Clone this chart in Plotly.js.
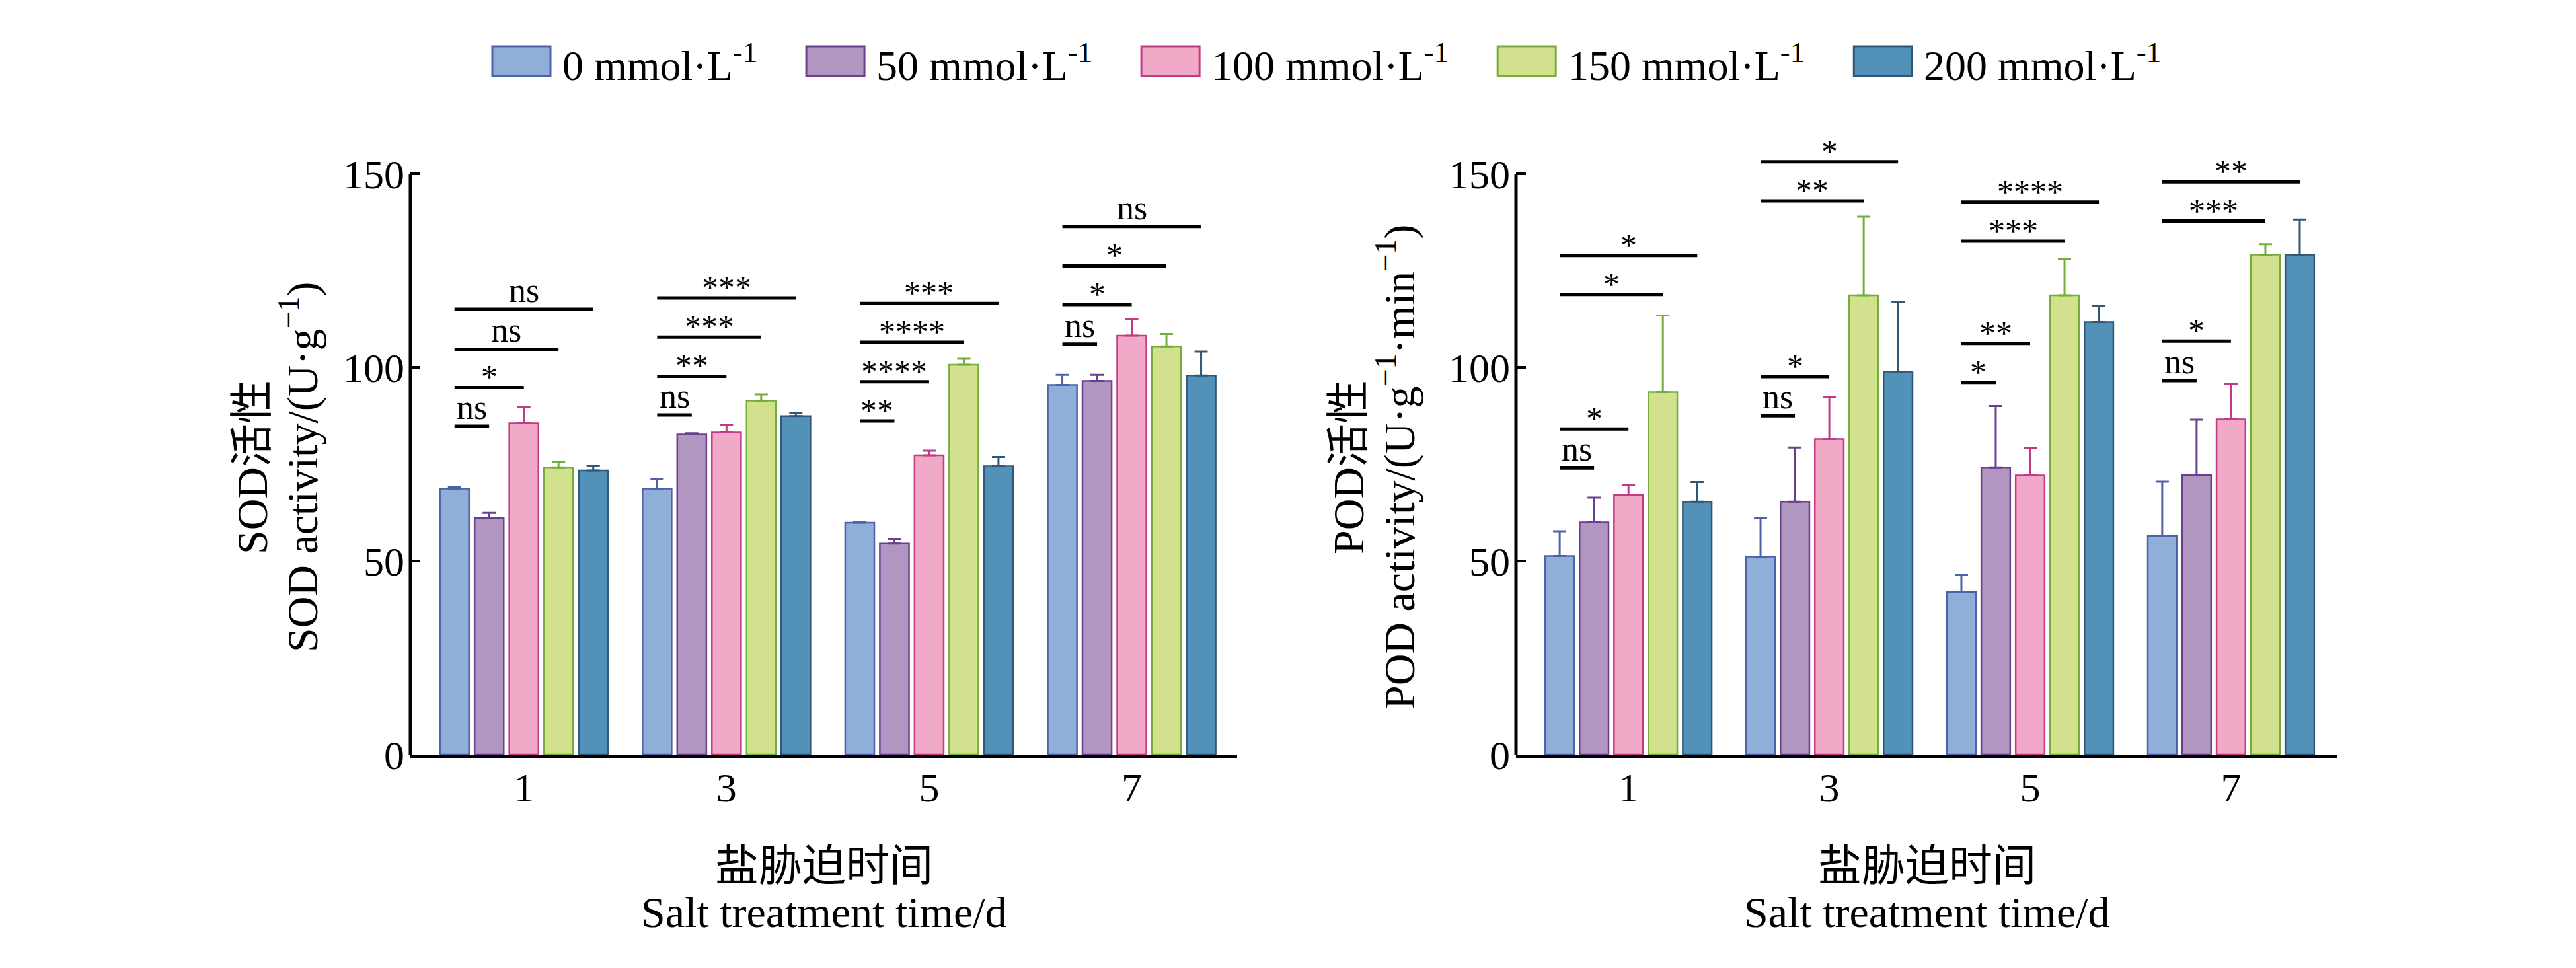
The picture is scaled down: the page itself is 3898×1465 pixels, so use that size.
<!DOCTYPE html>
<html>
<head>
<meta charset="utf-8">
<script src="https://cdn.plot.ly/plotly-3.0.1.min.js"></script>
<style>
  html, body { margin: 0; padding: 0; background: #fff; }
  #myDiv { width: 3898px; height: 1465px; }
</style>
</head>
<body>
<div id="myDiv"></div>
<script>
const days = ["1", "3", "5", "7"];
const doses = ["0", "50", "100", "150", "200"];
const fillColors = ["#8FAED8", "#B296C2", "#F0AAC8", "#D2E18E", "#5292B9"];
const lineColors = ["#4E62A8", "#6A3F8E", "#C23A84", "#72AE3A", "#2F5878"];

// rows = dose, cols = day
const sodMean = [
  [68.7, 68.7, 59.9, 95.5],
  [61.1, 82.7, 54.5, 96.5],
  [85.6, 83.2, 77.3, 108.2],
  [74.0, 91.4, 100.7, 105.4],
  [73.4, 87.4, 74.5, 97.9],
];
const sodErr = [
  [0.5, 2.4, 0.2, 2.6],
  [1.3, 0.3, 1.2, 1.6],
  [4.1, 1.9, 1.2, 4.2],
  [1.7, 1.6, 1.5, 3.2],
  [1.1, 0.9, 2.4, 6.2],
];
const podMean = [
  [51.3, 51.1, 42.0, 56.5],
  [60.0, 65.3, 74.0, 72.2],
  [67.1, 81.5, 72.1, 86.6],
  [93.6, 118.6, 118.6, 129.1],
  [65.3, 98.9, 111.7, 129.1],
];
const podErr = [
  [6.4, 10.0, 4.5, 14.0],
  [6.4, 14.0, 16.0, 14.3],
  [2.5, 10.8, 7.1, 9.2],
  [19.8, 20.3, 9.3, 2.7],
  [5.1, 17.9, 4.2, 9.1],
];

// significance brackets per day: k-th bracket spans 0 mmol to dose k+1
const sodSigY = [
  [84.8, 94.8, 104.7, 115.0],
  [87.7, 97.7, 107.8, 117.9],
  [86.2, 96.3, 106.5, 116.5],
  [106.0, 116.2, 126.2, 136.4],
];
const sodSigText = [
  ["ns", "*", "ns", "ns"],
  ["ns", "**", "***", "***"],
  ["**", "****", "****", "***"],
  ["ns", "*", "*", "ns"],
];
const podSigY = [
  [74.0, 84.1, 118.8, 128.9],
  [87.5, 97.6, 143.0, 153.1],
  [96.1, 106.2, 132.6, 142.7],
  [96.6, 106.8, 137.8, 147.9],
];
const podSigText = [
  ["ns", "*", "*", "*"],
  ["ns", "*", "**", "*"],
  ["*", "**", "***", "****"],
  ["ns", "*", "***", "**"],
];

const xTitle = ["盐胁迫时间", "Salt treatment time/d"];
const sodTitle = ["SOD活性", "SOD activity/(U·g<sup>−1</sup>)"];
const podTitle = ["POD活性", "POD activity/(U·g<sup>−1</sup>·min<sup>−1</sup>)"];

const W = 3898, H = 1465;
const serif = '"Liberation Serif", "Times New Roman", "Noto Sans CJK SC", serif';
const bargap = 0.144;
const slot = (1 - bargap) / doses.length;
const xIdx = days.map((d, i) => i);

function barTraces(mean, err, xa, ya) {
  return doses.map((d, i) => ({
    type: "bar",
    x: xIdx,
    y: mean[i],
    xaxis: xa,
    yaxis: ya,
    name: d,
    showlegend: false,
    marker: { color: fillColors[i], line: { color: lineColors[i], width: 2.5 } },
    error_y: {
      type: "data",
      array: err[i],
      arrayminus: err[i].map(() => 0),
      symmetric: false,
      color: lineColors[i],
      thickness: 3,
      width: 10,
    },
  }));
}

function sigMarks(levels, texts, xa, ya, shapes, annotations) {
  levels.forEach((row, g) => {
    row.forEach((y, k) => {
      const x0 = g + (0 - 2) * slot;
      const x1 = g + (k + 1 - 2) * slot;
      shapes.push({
        type: "line", xref: xa, yref: ya, x0: x0, x1: x1, y0: y, y1: y,
        line: { color: "#000", width: 5 },
      });
      const t = texts[g][k];
      annotations.push({
        xref: xa, yref: ya, x: (x0 + x1) / 2, y: y,
        text: t, showarrow: false, yanchor: "bottom",
        yshift: t === "ns" ? -2 : -14,
        font: { family: serif, size: t === "ns" ? 52 : 50, color: "#000" },
      });
    });
  });
}

function yAxisLine(xa, ya) {
  return {
    type: "line", xref: xa + " domain", yref: ya, x0: 0, x1: 0, y0: 0, y1: 150,
    line: { color: "#000", width: 5 },
  };
}

function titleText(text, x, y, xref, angle) {
  return {
    xref: xref, yref: "paper", x: x, y: y,
    xanchor: "center", yanchor: "middle", showarrow: false,
    textangle: angle, text: text,
    font: { family: serif, size: 66, color: "#000" },
  };
}

const shapes = [yAxisLine("x", "y"), yAxisLine("x2", "y2")];
const annotations = [];
sigMarks(sodSigY, sodSigText, "x", "y", shapes, annotations);
sigMarks(podSigY, podSigText, "x2", "y2", shapes, annotations);

// axis titles, one annotation per line
const yMid = 1 - 707 / H;
annotations.push(titleText(sodTitle[0], 381 / W, yMid, "paper", -90));
annotations.push(titleText(sodTitle[1], 453 / W, yMid, "paper", -90));
annotations.push(titleText(podTitle[0], 2040 / W, yMid, "paper", -90));
annotations.push(titleText(podTitle[1], 2113 / W, yMid, "paper", -90));
["x domain", "x2 domain"].forEach((ref) => {
  annotations.push(titleText(xTitle[0], 0.5, 1 - 1310 / H, ref, 0));
  annotations.push(titleText(xTitle[1], 0.5, 1 - 1380 / H, ref, 0));
});

// legend built from shapes and text (bar swatches are large rectangles)
const ctx = document.createElement("canvas").getContext("2d");
function labelWidth(main, sup, size) {
  ctx.font = size + "px " + serif;
  let w = ctx.measureText(main).width;
  ctx.font = size * 0.7 + "px " + serif;
  return w + ctx.measureText(sup).width;
}
const legendFont = 64;
let lx = 745;
doses.forEach((d, i) => {
  shapes.push({
    type: "rect", xref: "paper", yref: "paper",
    x0: lx / W, x1: (lx + 88) / W, y0: 1 - 115 / H, y1: 1 - 70 / H,
    fillcolor: fillColors[i], line: { color: lineColors[i], width: 3 },
  });
  annotations.push({
    xref: "paper", yref: "paper", x: (lx + 104) / W, y: 1 - 94 / H,
    xanchor: "left", yanchor: "middle", showarrow: false,
    text: d + " mmol·L<sup>-1</sup>",
    font: { family: serif, size: legendFont, color: "#000" },
  });
  lx += 88 + 16 + labelWidth(d + " mmol·L", "-1", legendFont) + 76;
});

const xBase = {
  type: "linear",
  range: [-0.56, 3.52],
  tickvals: xIdx,
  ticktext: days,
  ticks: "",
  showline: true,
  linewidth: 5,
  linecolor: "#000",
  showgrid: false,
  zeroline: false,
  tickfont: { family: serif, size: 62, color: "#000" },
  ticklabelstandoff: -8,
  automargin: false,
  fixedrange: true,
};
const yBase = {
  range: [0, 162],
  tickvals: [0, 50, 100, 150],
  ticks: "inside",
  ticklen: 15,
  tickwidth: 4,
  tickcolor: "#000",
  showline: false,
  showgrid: false,
  zeroline: false,
  tickfont: { family: serif, size: 62, color: "#000" },
  ticklabelstandoff: 8,
  domain: [(H - 1142) / H, (H - 192.7) / H],
  automargin: false,
  fixedrange: true,
};

const layout = {
  width: W,
  height: H,
  margin: { l: 0, r: 0, t: 0, b: 0, pad: 0 },
  paper_bgcolor: "#fff",
  plot_bgcolor: "#fff",
  barmode: "group",
  bargap: bargap,
  bargroupgap: 0.16,
  showlegend: false,
  xaxis: Object.assign({}, xBase, { domain: [621 / W, 1872 / W], anchor: "y" }),
  xaxis2: Object.assign({}, xBase, { domain: [2294 / W, 3537 / W], anchor: "y2", range: [-0.56, 3.53] }),
  yaxis: Object.assign({}, yBase, { anchor: "x" }),
  yaxis2: Object.assign({}, yBase, { anchor: "x2" }),
  shapes: shapes,
  annotations: annotations,
};

const data = barTraces(sodMean, sodErr, "x", "y").concat(barTraces(podMean, podErr, "x2", "y2"));
Plotly.newPlot(document.getElementById("myDiv"), data, layout, { displayModeBar: false, staticPlot: true });
</script>
</body>
</html>
